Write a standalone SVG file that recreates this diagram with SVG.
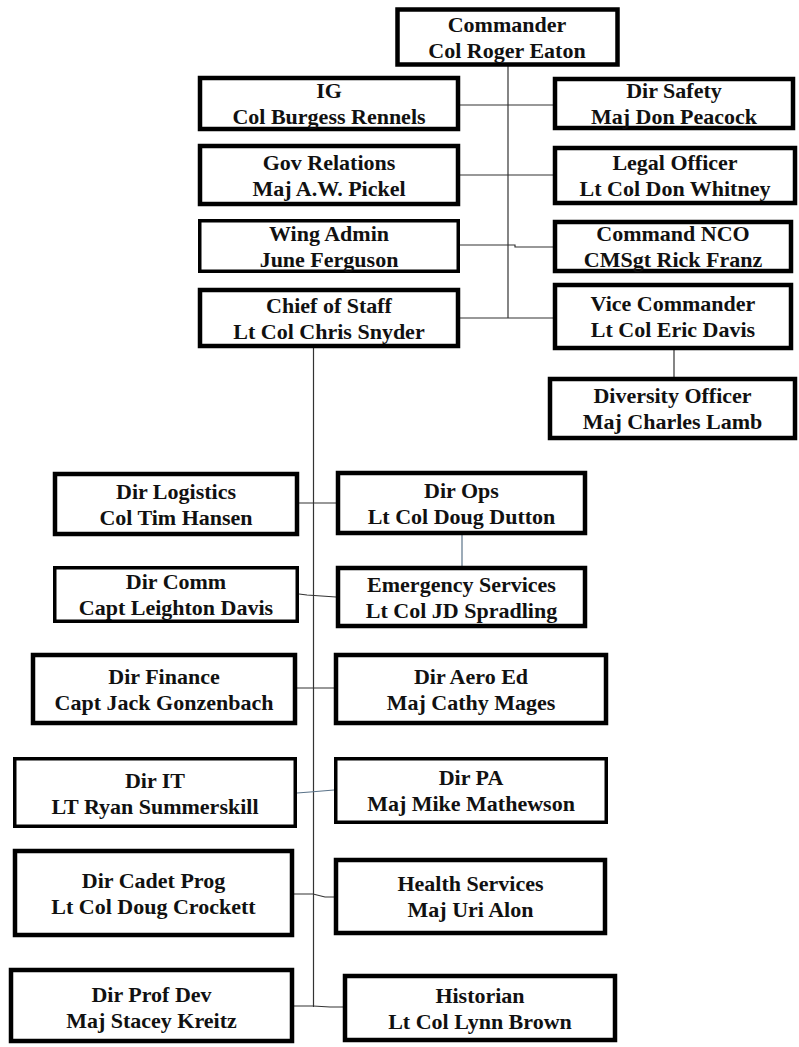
<svg xmlns="http://www.w3.org/2000/svg" width="799" height="1047" viewBox="0 0 799 1047">
<style>
.b{fill:#fff;stroke:#000;stroke-width:4.5}
.t{stroke-width:3.5}
.c{fill:none;stroke:#333;stroke-width:1.2}
.bl{stroke:#5b7389}
text{font-family:"Liberation Serif","Times New Roman",serif;font-weight:bold;font-size:22px;fill:#111;text-anchor:middle}
</style>
<rect width="799" height="1047" fill="#fff"/>
<g id="connectors">
<path class="c" d="M508 65V318"/>
<path class="c" d="M460 105H553"/>
<path class="c" d="M460 175H553"/>
<path class="c" d="M460 245H515V247H553"/>
<path class="c" d="M460 318H553"/>
<path class="c" d="M674 350V377"/>
<path class="c" d="M313.5 348V1007"/>
<path class="c" d="M299 503H336"/>
<path class="c" d="M299 594L307 595L336 597"/>
<path class="c bl" d="M462 535V566"/>
<path class="c" d="M297 688H334"/>
<path class="c bl" d="M297 793L310 792L334 790"/>
<path class="c" d="M294 894H313L325 897H334"/>
<path class="c" d="M294 1006H313L330 1007H343"/>
</g>
<g id="commander"><rect class="b" x="397.5" y="9.5" width="220" height="55"/><text x="507" y="31.5">Commander</text><text x="507" y="57.5">Col Roger Eaton</text></g>
<g id="ig"><rect class="b" x="200" y="78" width="258" height="51"/><text x="329" y="98">IG</text><text x="329" y="124">Col Burgess Rennels</text></g>
<g id="dir-safety"><rect class="b" x="555" y="79" width="238" height="49"/><text x="674" y="98">Dir Safety</text><text x="674" y="124">Maj Don Peacock</text></g>
<g id="gov-relations"><rect class="b" x="200" y="146" width="258" height="58"/><text x="329" y="169.5">Gov Relations</text><text x="329" y="195.5">Maj A.W. Pickel</text></g>
<g id="legal-officer"><rect class="b" x="555" y="148" width="240" height="55"/><text x="675" y="170">Legal Officer</text><text x="675" y="196">Lt Col Don Whitney</text></g>
<g id="wing-admin"><rect class="b t" x="199.75" y="220.75" width="258.5" height="50.5"/><text x="329" y="240.5">Wing Admin</text><text x="329" y="266.5">June Ferguson</text></g>
<g id="command-nco"><rect class="b" x="555" y="222" width="236" height="49"/><text x="673" y="241">Command NCO</text><text x="673" y="267">CMSgt Rick Franz</text></g>
<g id="chief-of-staff"><rect class="b" x="200" y="290" width="258" height="56"/><text x="329" y="312.5">Chief of Staff</text><text x="329" y="338.5">Lt Col Chris Snyder</text></g>
<g id="vice-commander"><rect class="b" x="555" y="285" width="236" height="63"/><text x="673" y="311">Vice Commander</text><text x="673" y="337">Lt Col Eric Davis</text></g>
<g id="diversity-officer"><rect class="b" x="550" y="379" width="245" height="59"/><text x="672.5" y="403">Diversity Officer</text><text x="672.5" y="429">Maj Charles Lamb</text></g>
<g id="dir-logistics"><rect class="b" x="55" y="474" width="242" height="60"/><text x="176" y="498.5">Dir Logistics</text><text x="176" y="524.5">Col Tim Hansen</text></g>
<g id="dir-ops"><rect class="b" x="338" y="473" width="247" height="60"/><text x="461.5" y="497.5">Dir Ops</text><text x="461.5" y="523.5">Lt Col Doug Dutton</text></g>
<g id="dir-comm"><rect class="b t" x="54.75" y="567.75" width="242.5" height="53.5"/><text x="176" y="589">Dir Comm</text><text x="176" y="615">Capt Leighton Davis</text></g>
<g id="emergency-services"><rect class="b" x="338" y="568" width="247" height="58"/><text x="461.5" y="591.5">Emergency Services</text><text x="461.5" y="617.5">Lt Col JD Spradling</text></g>
<g id="dir-finance"><rect class="b" x="33" y="655" width="262" height="68"/><text x="164" y="683.5">Dir Finance</text><text x="164" y="709.5">Capt Jack Gonzenbach</text></g>
<g id="dir-aero-ed"><rect class="b" x="336" y="655" width="270" height="68"/><text x="471" y="683.5">Dir Aero Ed</text><text x="471" y="709.5">Maj Cathy Mages</text></g>
<g id="dir-it"><rect class="b t" x="14.75" y="758.75" width="280.5" height="67.5"/><text x="155" y="788">Dir IT</text><text x="155" y="814">LT Ryan Summerskill</text></g>
<g id="dir-pa"><rect class="b t" x="335.75" y="758.75" width="270.5" height="63.5"/><text x="471" y="785">Dir PA</text><text x="471" y="811">Maj Mike Mathewson</text></g>
<g id="dir-cadet-prog"><rect class="b" x="15" y="851" width="277" height="84"/><text x="153.5" y="888">Dir Cadet Prog</text><text x="153.5" y="914">Lt Col Doug Crockett</text></g>
<g id="health-services"><rect class="b" x="336" y="860" width="269" height="73"/><text x="470.5" y="891">Health Services</text><text x="470.5" y="917">Maj Uri Alon</text></g>
<g id="dir-prof-dev"><rect class="b" x="11" y="970" width="281" height="71"/><text x="151.5" y="1002">Dir Prof Dev</text><text x="151.5" y="1028">Maj Stacey Kreitz</text></g>
<g id="historian"><rect class="b" x="345" y="976" width="270" height="64"/><text x="480" y="1002.5">Historian</text><text x="480" y="1028.5">Lt Col Lynn Brown</text></g>
</svg>
